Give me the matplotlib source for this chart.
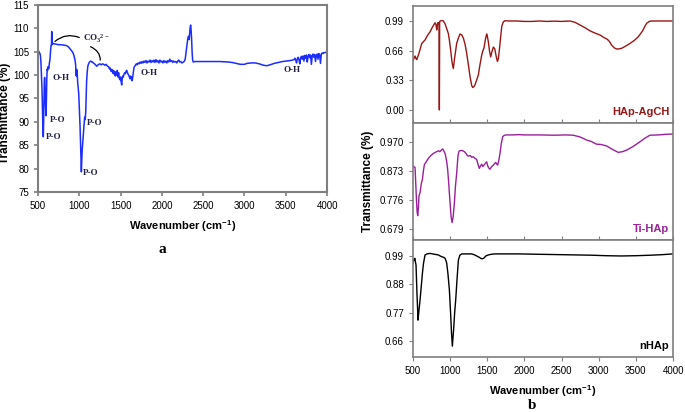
import numpy as np
import matplotlib
matplotlib.use('Agg')
import matplotlib.pyplot as plt

plt.rcParams['font.family'] = ['Liberation Sans', 'DejaVu Sans']
plt.rcParams['mathtext.default'] = 'regular'

# ---- panel a : FTIR of HAp (blue) ----
wn_a = [500, 508, 516, 524, 530, 536, 542, 548, 553, 558, 564, 568, 572, 576, 580, 585, 590, 597, 602, 606,
        611, 616, 622, 630, 638, 645, 652, 658, 663, 666, 669, 672, 680, 694, 720, 746, 780, 810, 847, 870,
        888, 905, 920, 935, 948, 955, 960, 964, 968, 974, 980, 987, 993, 1000, 1009, 1016, 1022, 1025, 1029, 1035,
        1041, 1050, 1058, 1065, 1072, 1078, 1083, 1088, 1095, 1102, 1110, 1120, 1130, 1140, 1150, 1160, 1170, 1185, 1200, 1211,
        1222, 1235, 1251, 1265, 1280, 1295, 1310, 1325, 1340, 1355, 1365, 1375, 1385, 1395, 1405, 1412, 1420, 1428, 1436, 1444,
        1452, 1460, 1468, 1476, 1484, 1493, 1500, 1507, 1513, 1519, 1526, 1533, 1541, 1550, 1558, 1566, 1574, 1582, 1590, 1598,
        1606, 1614, 1622, 1630, 1637, 1642, 1648, 1655, 1662, 1670, 1680, 1690, 1700, 1712, 1724, 1736, 1748, 1760, 1772, 1784,
        1796, 1808, 1820, 1832, 1844, 1856, 1868, 1880, 1892, 1904, 1916, 1928, 1940, 1952, 1964, 1976, 1988, 2000, 2012, 2024,
        2036, 2048, 2060, 2072, 2084, 2096, 2108, 2120, 2132, 2144, 2156, 2168, 2180, 2192, 2205, 2215, 2228, 2240, 2252, 2262,
        2272, 2282, 2290, 2298, 2306, 2314, 2322, 2330, 2336, 2342, 2348, 2354, 2360, 2366, 2372, 2380, 2400, 2450, 2500, 2600,
        2700, 2800, 2850, 2900, 2950, 3000, 3030, 3080, 3130, 3180, 3230, 3270, 3310, 3360, 3410, 3460, 3510, 3550, 3580, 3600,
        3610, 3620, 3630, 3640, 3650, 3660, 3670, 3680, 3690, 3700, 3710, 3720, 3730, 3740, 3750, 3760, 3770, 3780, 3790, 3800,
        3810, 3820, 3830, 3840, 3850, 3860, 3870, 3880, 3890, 3900, 3910, 3920, 3930, 3940, 3950, 3960, 3975, 3990, 4000]
t_a = [105.4, 105.1, 104.8, 104.6, 104.0, 102.5, 100.0, 97.0, 93.0, 89.5, 86.8, 90.0, 95.0, 98.5, 99.5, 97.5, 94.0, 91.3, 95.0, 99.0,
       101.3, 101.0, 101.8, 101.4, 102.6, 103.4, 105.2, 106.3, 106.6, 109.3, 107.5, 106.5, 106.8, 106.7, 106.6, 106.5, 106.5, 106.4, 106.3, 106.0,
       105.6, 105.2, 104.9, 104.2, 103.2, 102.3, 100.2, 99.8, 101.2, 100.6, 98.5, 97.0, 96.0, 93.0, 89.0, 84.5, 80.0, 79.3, 81.5, 84.0,
       85.5, 87.5, 89.5, 91.0, 90.5, 92.3, 95.5, 98.5, 100.5, 101.8, 102.3, 102.7, 102.9, 103.0, 102.8, 102.8, 102.6, 102.4, 102.1, 101.9,
       102.1, 102.3, 102.4, 102.2, 102.4, 102.3, 102.1, 102.3, 101.9, 101.8, 101.3, 101.5, 100.8, 101.2, 100.4, 101.0, 100.2, 100.8, 99.8, 100.6,
       100.0, 101.0, 99.6, 100.5, 99.3, 99.0, 99.6, 98.5, 97.9, 99.2, 99.8, 99.6, 100.2, 100.5, 100.3, 100.8, 101.0, 100.6, 100.2, 100.0,
       99.6, 99.2, 99.8, 99.4, 98.8, 99.0, 99.8, 100.9, 101.6, 101.9, 102.1, 102.4, 102.2, 102.6, 102.4, 102.8, 102.5, 102.9, 102.6, 103.0,
       102.7, 103.1, 102.6, 103.0, 102.8, 103.2, 102.7, 103.1, 102.8, 103.2, 102.7, 103.3, 102.8, 103.1, 102.6, 103.2, 102.8, 103.0, 102.6, 103.1,
       102.7, 103.0, 102.6, 103.1, 102.8, 103.4, 102.9, 103.1, 102.7, 103.0, 102.8, 102.9, 102.6, 103.0, 103.2, 102.8, 102.9, 102.6, 102.7, 102.8,
       103.0, 103.4, 104.6, 105.8, 106.8, 107.8, 108.3, 107.6, 108.9, 110.2, 110.7, 109.5, 107.5, 104.8, 103.2, 102.8, 102.9, 102.9, 102.9, 102.9,
       102.9, 102.8, 102.7, 102.5, 102.3, 102.3, 102.5, 102.6, 102.6, 102.4, 102.1, 102.0, 102.2, 102.5, 102.7, 102.9, 103.0, 103.1, 103.2, 103.3,
       103.6, 103.2, 102.6, 103.5, 103.8, 103.3, 102.4, 103.7, 104.0, 103.4, 104.1, 103.0, 104.2, 103.6, 104.3, 102.8, 104.0, 104.4, 103.7, 104.3,
       102.3, 104.1, 104.5, 103.8, 104.4, 102.9, 104.2, 104.5, 103.4, 104.6, 104.3, 102.5, 104.5, 104.7, 104.6, 104.8, 104.8, 104.9, 105.0]

# ---- panel b : HAp-AgCH ----
wn_ag = [500, 515, 527, 540, 550, 562, 572, 590, 617, 640, 662, 695, 729, 760, 796, 808, 819, 826, 832, 840,
         846, 850, 852, 854, 856, 858, 865, 885, 908, 930, 955, 975, 990, 1007, 1025, 1042, 1060, 1087, 1110, 1132,
         1155, 1177, 1200, 1222, 1245, 1267, 1290, 1303, 1320, 1334, 1355, 1379, 1400, 1424, 1440, 1455, 1475, 1491, 1500, 1513,
         1530, 1545, 1562, 1581, 1600, 1618, 1635, 1648, 1662, 1680, 1694, 1715, 1738, 1800, 1900, 2000, 2100, 2200, 2300, 2400,
         2500, 2613, 2680, 2748, 2815, 2882, 2950, 3017, 3060, 3115, 3145, 3174, 3210, 3241, 3275, 3308, 3360, 3420, 3480, 3532,
         3590, 3620, 3645, 3680, 3712, 3800, 3900, 4000]
t_ag = [0.55, 0.58, 0.60, 0.57, 0.56, 0.59, 0.61, 0.66, 0.74, 0.76, 0.78, 0.83, 0.87, 0.92, 0.97, 0.95, 0.89, 0.93, 0.97, 0.96,
        0.97, 0.96, 0.40, 0.00, 0.40, 0.98, 0.99, 0.995, 0.99, 0.96, 0.90, 0.85, 0.77, 0.66, 0.53, 0.46, 0.58, 0.74, 0.80, 0.845,
        0.835, 0.80, 0.73, 0.63, 0.50, 0.37, 0.27, 0.25, 0.26, 0.28, 0.33, 0.39, 0.50, 0.61, 0.66, 0.69, 0.79, 0.845, 0.82, 0.76,
        0.65, 0.59, 0.65, 0.70, 0.68, 0.60, 0.54, 0.57, 0.67, 0.82, 0.93, 0.98, 0.993, 0.99, 0.99, 0.985, 0.985, 0.99, 0.985, 0.988,
        0.985, 0.99, 0.975, 0.945, 0.915, 0.88, 0.855, 0.834, 0.81, 0.786, 0.76, 0.72, 0.69, 0.678, 0.68, 0.686, 0.71, 0.74, 0.775, 0.815,
        0.88, 0.93, 0.965, 0.985, 0.99, 0.99, 0.99, 0.99]

# ---- panel b : Ti-HAp ----
wn_ti = [500, 515, 527, 535, 545, 555, 563, 572, 580, 594, 610, 626, 640, 653, 680, 706, 740, 773, 810, 841,
         860, 880, 899, 915, 931, 945, 953, 965, 978, 989, 1000, 1012, 1025, 1040, 1056, 1070, 1087, 1105, 1120, 1132,
         1155, 1177, 1195, 1213, 1230, 1244, 1270, 1290, 1311, 1335, 1356, 1375, 1392, 1408, 1424, 1440, 1455, 1470, 1491, 1505,
         1520, 1536, 1555, 1581, 1597, 1612, 1625, 1639, 1655, 1670, 1688, 1706, 1730, 1760, 1850, 1917, 2000, 2200, 2400, 2550,
         2657, 2750, 2836, 2900, 2970, 3030, 3105, 3180, 3262, 3320, 3374, 3460, 3554, 3620, 3688, 3800, 3900, 4000]
t_ti = [0.890, 0.887, 0.885, 0.84, 0.78, 0.735, 0.7235, 0.75, 0.79, 0.80, 0.83, 0.845, 0.875, 0.895, 0.905, 0.9155, 0.925, 0.932, 0.937, 0.941,
        0.938, 0.943, 0.947, 0.94, 0.932, 0.915, 0.904, 0.88, 0.84, 0.798, 0.76, 0.72, 0.700, 0.72, 0.765, 0.82, 0.865, 0.925, 0.94, 0.941,
        0.942, 0.940, 0.937, 0.932, 0.925, 0.923, 0.925, 0.919, 0.921, 0.915, 0.912, 0.895, 0.882, 0.89, 0.896, 0.888, 0.893, 0.898, 0.904, 0.89,
        0.883, 0.879, 0.887, 0.893, 0.898, 0.902, 0.897, 0.893, 0.91, 0.932, 0.965, 0.988, 0.993, 0.994, 0.994, 0.995, 0.994, 0.994, 0.993, 0.994,
        0.993, 0.987, 0.977, 0.972, 0.963, 0.962, 0.957, 0.946, 0.9355, 0.938, 0.943, 0.955, 0.971, 0.983, 0.993, 0.994, 0.996, 0.997]

# ---- panel b : nHAp ----
wn_n = [500, 510, 518, 523, 530, 540, 552, 567, 580, 594, 610, 626, 640, 661, 690, 729, 780, 841, 865, 886,
        910, 931, 945, 953, 970, 989, 1005, 1018, 1029, 1045, 1060, 1074, 1092, 1110, 1130, 1155, 1220, 1289, 1330, 1356,
        1390, 1410, 1430, 1450, 1480, 1513, 1560, 1603, 1800, 1939, 2100, 2300, 2500, 2700, 2900, 3100, 3300, 3500, 3700, 3850,
        4000]
t_n = [0.962, 0.975, 0.975, 0.981, 0.97, 0.955, 0.85, 0.741, 0.78, 0.819, 0.87, 0.923, 0.96, 0.994, 0.998, 1.0, 0.997, 0.994, 0.99, 0.987,
       0.985, 0.981, 0.97, 0.962, 0.92, 0.858, 0.77, 0.69, 0.640, 0.70, 0.77, 0.819, 0.90, 0.974, 0.993, 0.998, 0.998, 0.998, 0.994, 0.99,
       0.985, 0.981, 0.979, 0.981, 0.99, 0.994, 0.997, 0.998, 0.998, 0.998, 0.997, 0.996, 0.995, 0.994, 0.993, 0.991, 0.990, 0.991, 0.993, 0.995,
       0.998]

# peak labels for panel a: (text, x, y)
peak_labels = [('O-H', 680, 99.4), ('P-O', 645, 90.4), ('P-O', 597, 86.8), ('P-O', 1094, 89.8),
               ('P-O', 1045, 79.0), ('O-H', 1735, 100.5), ('O-H', 3467, 101.0)]

spine_col = '#7f7f7f'
fig = plt.figure(figsize=(6.85, 4.12), dpi=100)

# ---------- panel a ----------
ax = fig.add_axes([0.0555, 0.534, 0.422, 0.454])
ax.plot(wn_a, t_a, color='#1a2cff', lw=1.1)
ax.set_xlim(500, 4000)
ax.set_ylim(75, 115)
ax.set_xticks(np.arange(500, 4001, 500))
ax.set_yticks(np.arange(75, 116, 5))
ax.tick_params(labelsize=7, length=3, color=spine_col, width=1.2)
for s in ax.spines.values():
    s.set_color(spine_col)
    s.set_linewidth(1.5)
ax.set_xlabel('Wavenumber (cm$^{-1}$)', fontsize=8, fontweight='bold', labelpad=5)
ax.set_ylabel('Transmittance (%)', fontsize=8.5, fontweight='bold')
ax.yaxis.set_label_coords(-0.095, 0.42)

serif = dict(family='Liberation Serif', fontweight='bold', fontsize=6.5, color='#222244')
for txt, x, y in peak_labels:
    ax.text(x, y, txt, ha='left', va='center', **serif)
ax.text(1040, 107.7, 'CO$_3$$^{2-}$', ha='left', va='center', **serif)
ax.annotate('', xy=(680, 106.8), xytext=(1030, 107.8),
            arrowprops=dict(arrowstyle='-', color='black', lw=0.9, connectionstyle='arc3,rad=0.35'))
ax.annotate('', xy=(1250, 102.6), xytext=(1105, 106.3),
            arrowprops=dict(arrowstyle='-', color='black', lw=0.9, connectionstyle='angle3,angleA=-20,angleB=80'))
fig.text(0.237, 0.385, 'a', family='Liberation Serif', fontweight='bold', fontsize=11, ha='center')

# ---------- panel b ----------
panels = [
    (wn_ag, t_ag, '#9a1515', 'HAp-AgCH', [0.00, 0.33, 0.66, 0.99], '%.2f', (-0.145, 1.157)),
    (wn_ti, t_ti, '#9b1f9b', 'Ti-HAp', [0.679, 0.776, 0.873, 0.970], '%.3f', (0.642, 1.034)),
    (wn_n, t_n, '#000000', 'nHAp', [0.66, 0.77, 0.88, 0.99], '%.2f', (0.598, 1.052)),
]
bottoms = [0.7015, 0.4175, 0.1335]
for i, (wn, tr, col, name, yt, fmt, ylim) in enumerate(panels):
    axb = fig.add_axes([0.603, bottoms[i], 0.3796, 0.284])
    axb.plot(wn, tr, color=col, lw=1.0)
    axb.set_xlim(500, 4000)
    axb.set_ylim(*ylim)
    axb.set_xticks(np.arange(500, 4001, 500))
    axb.set_yticks(yt)
    axb.set_yticklabels([fmt % v for v in yt])
    for s in axb.spines.values():
        s.set_color(spine_col)
        s.set_linewidth(1.2)
    axb.tick_params(axis='y', labelsize=7, length=3, color=spine_col)
    if i < 2:
        axb.tick_params(axis='x', direction='in', labelbottom=False, length=3, color=spine_col)
    else:
        axb.tick_params(axis='x', labelsize=7, length=3, color=spine_col)
        axb.set_xlabel('Wavenumber (cm$^{-1}$)', fontsize=8, fontweight='bold', labelpad=5)
    if i == 1:
        axb.set_ylabel('Transmittance (%)', fontsize=8.5, fontweight='bold')
    axb.text(0.985, 0.05, name, transform=axb.transAxes, ha='right', va='bottom',
             color=col, fontsize=8, fontweight='bold')
fig.text(0.776, 0.008, 'b', family='Liberation Serif', fontweight='bold', fontsize=11, ha='center')

fig.savefig('out.png', dpi=100)
